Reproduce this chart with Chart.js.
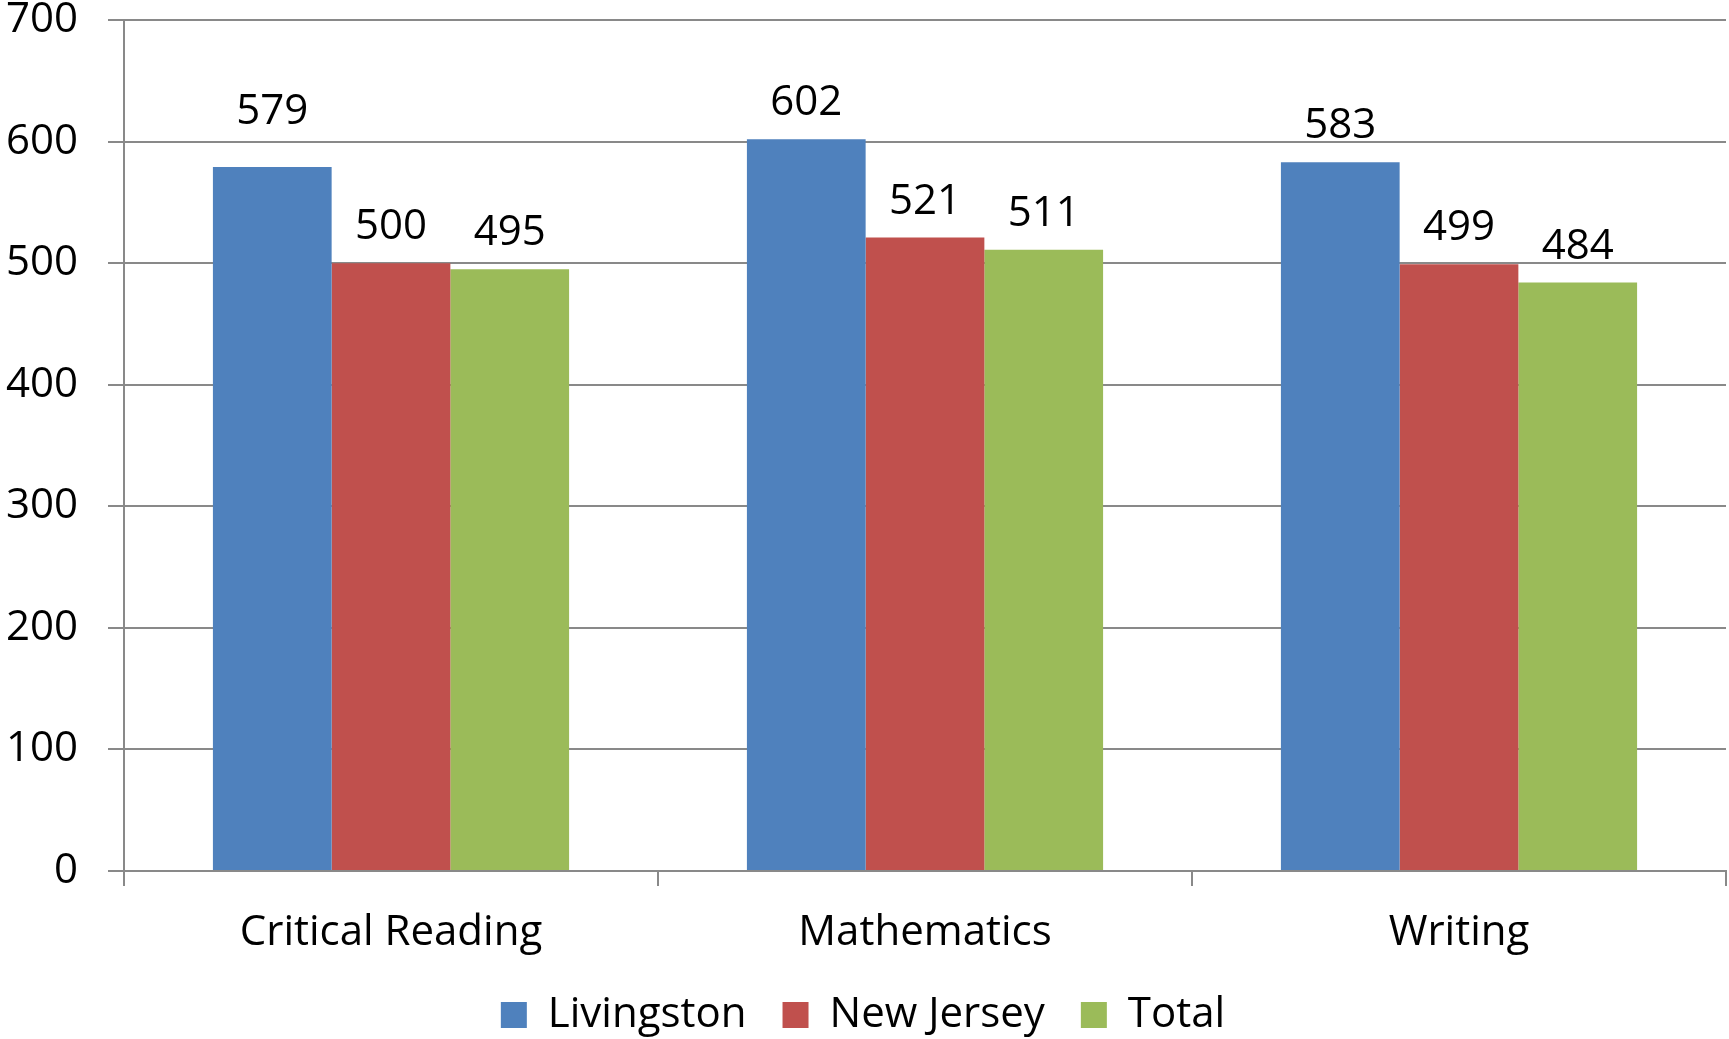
<!DOCTYPE html>
<html>
<head>
<meta charset="utf-8">
<script src="https://cdn.jsdelivr.net/npm/chart.js@4"></script>
<style>
  html, body { margin: 0; padding: 0; background: #fff; }
  #wrap { width: 1729px; height: 1039px; }
</style>
</head>
<body>
<div id="wrap"><canvas id="scores"></canvas></div>
<script>
const categories = ['Critical Reading', 'Mathematics', 'Writing'];
const livingston = [579, 602, 583];
const newJersey = [500, 521, 499];
const total = [495, 511, 484];
const yTicks = [0, 100, 200, 300, 400, 500, 600, 700];

const FONT = "'Open Sans', sans-serif";
const GRID = '#898989';

// values drawn above each bar
const barLabels = {
    id: 'barLabels',
    afterDatasetsDraw(chart) {
        const ctx = chart.ctx;
        ctx.save();
        ctx.font = '42px ' + FONT;
        ctx.fillStyle = '#000';
        ctx.textAlign = 'center';
        ctx.textBaseline = 'alphabetic';
        chart.data.datasets.forEach((ds, i) => {
            chart.getDatasetMeta(i).data.forEach((bar, j) => {
                // the first label sits a bit higher in the original
                const lift = (i === 0 && j === 0) ? 43 : 24;
                ctx.fillText(ds.data[j], bar.x, bar.y - lift);
            });
        });
        ctx.restore();
    }
};

const ctx = document.getElementById('scores');
new Chart(ctx, {
    type: 'bar',
    data: {
        labels: categories,
        datasets: [
            { label: 'Livingston', data: livingston, backgroundColor: '#4F81BD' },
            { label: 'New Jersey', data: newJersey, backgroundColor: '#C0504D' },
            { label: 'Total', data: total, backgroundColor: '#9BBB59' }
        ]
    },
    options: {
        responsive: true,
        maintainAspectRatio: false,
        animation: false,
        layout: { padding: { top: 0, right: 3, left: 0, bottom: -7 } },
        datasets: {
            bar: { categoryPercentage: 0.667, barPercentage: 1.0 }
        },
        scales: {
            x: {
                afterFit(scale) { scale.height = 87; },
                grid: {
                    offset: true,
                    drawOnChartArea: false,
                    drawTicks: true,
                    tickLength: 15,
                    color: GRID,
                    lineWidth: 2
                },
                border: { color: GRID, width: 2 },
                ticks: { color: '#000', font: { family: FONT, size: 42 }, padding: 22 }
            },
            y: {
                min: 0,
                max: 700,
                afterBuildTicks(scale) {
                    scale.ticks = yTicks.map(v => ({ value: v }));
                },
                afterFit(scale) {
                    scale.width = 124;
                    scale.paddingTop = 20;
                },
                grid: { color: GRID, lineWidth: 2, tickLength: 16 },
                border: { color: GRID, width: 2 },
                ticks: { color: '#000', font: { family: FONT, size: 42 }, padding: 30 }
            }
        },
        plugins: {
            legend: {
                position: 'bottom',
                labels: {
                    color: '#000',
                    font: { family: FONT, size: 42 },
                    boxWidth: 26,
                    boxHeight: 26,
                    padding: 36
                }
            },
            tooltip: { enabled: false }
        }
    },
    plugins: [barLabels]
});
</script>
</body>
</html>
